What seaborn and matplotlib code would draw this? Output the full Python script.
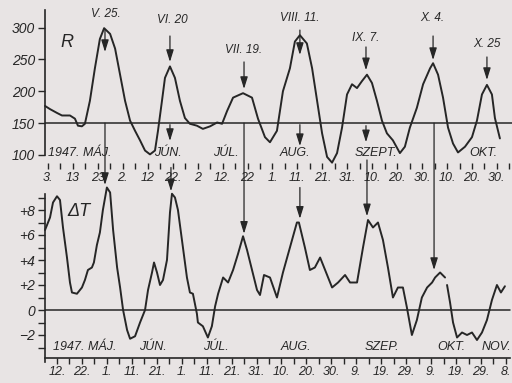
import matplotlib
matplotlib.use("Agg")
import matplotlib.pyplot as plt
import matplotlib.transforms as mtransforms
from matplotlib.patches import ArrowStyle
import pandas as pd
import seaborn as sns

# ---------------- data (day index = days since 1947-05-01) ----------------
r_days = [0.8, 2.8, 5.6, 7.6, 10.8, 12.8, 14.0, 15.6, 16.8, 18.8, 20.8, 22.8, 24.5, 26.9,
          28.9, 30.9, 32.9, 34.9, 36.9, 38.9, 40.9, 42.9, 44.9, 46.1, 47.7, 48.9, 50.9, 52.9,
          54.9, 56.9, 58.9, 61.7, 64.1, 67.0, 69.8, 71.8, 73.8, 76.2, 80.2, 83.8, 86.2, 89.0,
          91.0, 93.8, 96.2, 99.0, 101.0, 103.0, 105.8, 107.9, 109.9, 111.9, 113.9, 115.9,
          117.9, 119.9, 121.9, 123.9, 125.9, 127.9, 129.9, 131.9, 133.9, 135.9, 137.9, 140.3,
          143.1, 145.1, 147.1, 149.9, 152.4, 155.2, 156.4, 158.4, 160.4, 162.4, 164.4, 166.4,
          169.2, 172.0, 174.0, 176.0, 178.0, 180.0, 181.2, 183.2]
r_vals = [177, 172, 166, 162, 162, 157, 146, 145, 149, 185, 236, 282, 299, 290,
          267, 226, 185, 154, 138, 123, 107, 101, 107, 138, 185, 221, 239, 221,
          185, 158, 149, 146, 141, 145, 151, 149, 169, 190, 197, 190, 157, 128,
          120, 138, 200, 236, 278, 288, 275, 236, 185, 134, 97, 88,
          103, 143, 195, 211, 205, 216, 226, 213, 185, 154, 134, 123,
          103, 113, 143, 174, 211, 236, 244, 226, 190, 143, 118, 104,
          113, 128, 154, 195, 210, 195, 158, 126]

dt_days_1 = [6.2, 8.2, 9.4, 11.0, 12.2, 13.4, 15.0, 16.2, 17.0, 19.0, 21.0, 22.2, 23.4, 25.0,
             25.8, 27.0, 28.2, 29.4, 31.0, 32.3, 33.5, 35.1, 36.3, 37.5, 39.1, 40.3, 42.3, 44.3,
             46.3, 47.5, 49.1, 49.9, 51.1, 52.3, 53.5, 55.1, 56.3, 57.1, 58.3, 59.5, 61.5, 63.1,
             64.3, 65.5, 67.1, 67.5, 69.5, 71.5, 73.1, 74.4, 75.6, 77.6, 79.6, 81.6, 83.6, 85.6,
             87.2, 89.2, 91.2, 92.4, 94.0, 96.4, 99.2, 101.6, 104.4, 107.2, 108.0, 110.4, 112.4,
             114.4, 116.5, 118.5, 121.3, 123.7, 126.5, 128.5, 131.3, 133.7, 135.7, 137.7, 139.7,
             141.7, 143.7, 145.7, 147.7, 149.7, 151.3, 153.3, 155.3, 157.3, 159.4, 161.4, 162.6,
             164.6, 166.6]
dt_vals_1 = [6.4, 7.4, 8.6, 9.1, 8.8, 6.6, 4.2, 2.2, 1.4, 1.3, 1.8, 2.4, 3.2, 3.4,
             3.8, 5.2, 6.2, 8.0, 9.8, 9.4, 6.4, 3.4, 1.8, 0.0, -1.6, -2.3, -2.1, -1.0,
             0.0, 1.6, 3.0, 3.8, 3.0, 2.0, 2.4, 4.0, 7.8, 9.3, 9.0, 8.0, 5.0, 2.6,
             1.4, 1.3, -0.3, -1.0, -1.3, -2.2, -1.3, 0.3, 1.3, 2.6, 2.2, 3.2, 4.5, 5.9,
             4.8, 3.2, 1.6, 1.2, 2.8, 2.6, 1.0, 3.0, 5.0, 7.0, 7.0, 5.0, 3.2,
             3.4, 4.2, 3.2, 1.8, 2.2, 2.8, 2.2, 2.2, 5.0, 7.2, 6.6, 7.0,
             5.6, 3.4, 1.0, 1.8, 1.8, 0.2, -2.0, -0.8, 1.0, 1.8, 2.2, 2.6,
             3.0, 2.6]
dt_days_2 = [167.4, 168.6, 169.8, 171.4, 173.4, 175.4, 177.4, 179.4, 181.4, 183.4, 185.4,
             187.4, 189.0, 190.6]
dt_vals_2 = [2.0, 0.6, -1.0, -2.2, -1.8, -2.0, -1.8, -2.4, -1.8, -0.8, 0.8,
             2.0, 1.4, 1.9]

top_tick_days = [2, 12, 22, 32, 42, 52, 62, 72, 82, 92, 102, 112, 122, 132, 142, 152, 162, 172, 182]
top_tick_labels = ["3.", "13", "23", "2.", "12", "22.", "2", "12.", "22", "1.", "11.", "21.",
                   "31.", "10.", "20.", "30.", "10.", "20.", "30."]
bot_tick_days = [11, 21, 31, 41, 51, 61, 71, 81, 91, 101, 111, 121, 131, 141, 151, 161, 171, 181, 191]
bot_tick_labels = ["12.", "22.", "1.", "11.", "21.", "1.", "11.", "21.", "31.", "10.", "20.",
                   "30.", "9.", "19.", "29.", "9.", "19.", "29.", "8."]
r_ticks = [100, 150, 200, 250, 300]
dt_ticks = [-2, 0, 2, 4, 6, 8]
dt_tick_labels = ["\u22122", "0", "+2", "+4", "+6", "+8"]

top_months = ["1947. MÁJ.", "JÚN.", "JÚL.", "AUG.", "SZEPT.", "OKT."]
bot_months = ["1947. MÁJ.", "JÚN.", "JÚL.", "AUG.", "SZEP.", "OKT.", "NOV."]
peak_labels = ["V. 25.", "VI. 20", "VII. 19.", "VIII. 11.", "IX. 7.", "X. 4.", "X. 25"]

# ---------------- layout / style ----------------
BG = "#e8e4e4"
INK = "#262626"
W, H = 512, 383

sns.set_theme(style="white")
plt.rcParams["font.family"] = ["Liberation Sans", "DejaVu Sans"]
plt.rcParams["font.style"] = "italic"

fig = plt.figure(figsize=(W / 100, H / 100), dpi=100, facecolor=BG)


def px_axes(x0, y0, x1, y1):
    return fig.add_axes([x0 / W, 1 - y1 / H, (x1 - x0) / W, (y1 - y0) / H])


ax1 = px_axes(45, 10, 512, 155)
ax2 = px_axes(45, 185, 512, 358)
for ax in (ax1, ax2):
    ax.set_facecolor("none")
    ax.grid(False)

df_r = pd.DataFrame({"day": r_days, "R": r_vals})
df_t = pd.DataFrame({
    "day": dt_days_1 + dt_days_2,
    "dT": dt_vals_1 + dt_vals_2,
    "seg": [0] * len(dt_days_1) + [1] * len(dt_days_2),
})

sns.lineplot(data=df_r, x="day", y="R", ax=ax1, color=INK, lw=1.4, sort=False, estimator=None)
sns.lineplot(data=df_t, x="day", y="dT", units="seg", ax=ax2, color=INK, lw=1.4,
             sort=False, estimator=None)
for ax in (ax1, ax2):
    for ln in ax.lines:
        ln.set_clip_on(False)

# ---- top axes
ax1.set_xlim(0.797, 188.05)
ax1.set_ylim(100, 327.5)
ax1.axhline(150, color=INK, lw=1.1)
for s in ("top", "right"):
    ax1.spines[s].set_visible(False)
ax1.spines["left"].set_color(INK)
ax1.spines["left"].set_linewidth(1.2)
ax1.spines["bottom"].set_position(("outward", 10))
ax1.spines["bottom"].set_visible(False)
ax1.set_xticks(top_tick_days, top_tick_labels, fontsize=9, fontstyle="italic", color=INK)
ax1.set_xticks([d + 5 for d in top_tick_days[:-1]] + [187], minor=True)
ax1.tick_params(axis="x", which="both", direction="in", length=4, width=1.0, color=INK, pad=2,
                bottom=True)
ax1.set_yticks(r_ticks, [str(v) for v in r_ticks], fontsize=10, fontstyle="italic", color=INK)
ax1.tick_params(axis="y", direction="out", length=5, width=1, color=INK, pad=2, left=True)
ax1.set_xlabel("")
ax1.set_ylabel("")

# ---- bottom axes
ax2.set_xlim(6.19, 193.44)
ax2.set_ylim(-3.84, 10.0)
ax2.axhline(0, xmin=0, xmax=(510 - 45) / 467, color=INK, lw=1.1)
for s in ("top", "right"):
    ax2.spines[s].set_visible(False)
for s in ("left", "bottom"):
    ax2.spines[s].set_color(INK)
    ax2.spines[s].set_linewidth(1.2)
ax2.spines["left"].set_bounds(-4.15, 9.3)
ax2.spines["bottom"].set_bounds(6.19, 192.6)
ax2.set_xticks(bot_tick_days, bot_tick_labels, fontsize=9, fontstyle="italic", color=INK)
ax2.set_xticks([d + 5 for d in bot_tick_days[:-1]], minor=True)
ax2.tick_params(axis="x", which="both", direction="out", length=4, width=1.0, color=INK, pad=2,
                bottom=True)
ax2.set_yticks(dt_ticks, dt_tick_labels, fontsize=10, fontstyle="italic", color=INK)
ax2.set_yticks([-3, -1, 1, 3, 5, 7, 9], minor=True)
ax2.tick_params(axis="y", which="both", direction="out", length=5, width=1, color=INK, pad=2,
                left=True)
ax2.set_xlabel("")
ax2.set_ylabel("")

# ---- texts
txt = dict(color=INK, fontstyle="italic")
ax1.text(6.8, 277, "R", fontsize=13, ha="left", va="center", **txt)
ax2.text(19.8, 7.9, "\u0394T", fontsize=13, ha="center", va="center", **txt)

top_month_pos = [(2.0, "left"), (50.1, "center"), (73.4, "center"), (101.0, "center"),
                 (133.5, "center"), (176.4, "center")]
for name, (d, ha) in zip(top_months, top_month_pos):
    ax1.text(d, 103, name, fontsize=9, ha=ha, va="center", **txt)

bot_month_pos = [(9.4, "left"), (49.5, "center"), (74.8, "center"), (106.8, "center"),
                 (141.3, "center"), (169.0, "center"), (193.2, "right")]
for name, (d, ha) in zip(bot_months, bot_month_pos):
    ax2.text(d, -2.95, name, fontsize=9, ha=ha, va="center", **txt)

label_pos = [(25.3, 321), (51.7, 312), (80.6, 265), (103.0, 315), (129.5, 283.6),
             (156.0, 315), (178.0, 274)]
for name, (d, r) in zip(peak_labels, label_pos):
    ax1.text(d, r, name, fontsize=8.5, ha="center", va="center", **txt)

astyle = ArrowStyle("-|>", head_length=0.9, head_width=0.28)
aprops = dict(arrowstyle=astyle, color=INK, lw=0.9, mutation_scale=8, shrinkA=0, shrinkB=0)
mix = mtransforms.blended_transform_factory(ax1.transData, ax2.transData)


def arrow(x, y_from, y_to, tr_from, tr_to):
    ax1.annotate("", xy=(x, y_to), xycoords=tr_to, xytext=(x, y_from), textcoords=tr_from,
                 arrowprops=aprops, annotation_clip=False)


# arrows above the R peaks
for d, a, b in [(24.85, 296, 261.6), (50.9, 286.7, 246), (80.6, 246, 203.6), (103.0, 296, 257),
                (129.5, 269.5, 233), (156.4, 286.7, 249), (178.0, 253.8, 217.7)]:
    arrow(d, a, b, ax1.transData, ax1.transData)
# short arrows below the 150 line
for d, a, b in [(50.9, 147.6, 122), (103.0, 147.6, 114), (129.5, 146, 120)]:
    arrow(d, a, b, ax1.transData, ax1.transData)
# long arrows from R panel to the ΔT peaks
for d, a, b in [(24.85, 150, 10.0), (80.6, 150, 6.1), (156.8, 150, 3.2), (129.9, 92.2, 7.5)]:
    arrow(d, a, b, ax1.transData, mix)
# arrows inside the ΔT panel
for d, a, b in [(51.3, 11.4, 9.5), (103.0, 9.8, 7.3)]:
    arrow(d, a, b, mix, mix)

fig.savefig("out.png", dpi=100, facecolor=BG)
